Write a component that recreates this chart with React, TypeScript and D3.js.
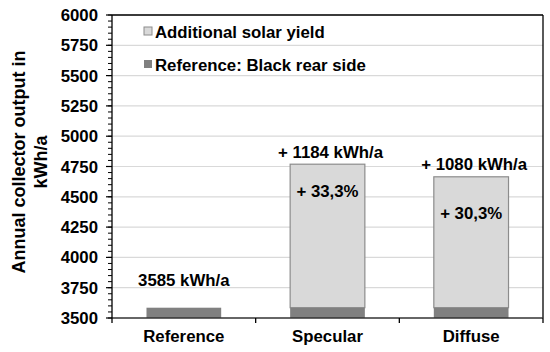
import React from "react";
import * as d3 from "d3";

const categories = ["Reference", "Specular", "Diffuse"];
const referenceValues = [3585, 3585, 3585];
const additionalValues = [0, 1184, 1080];
const totalLabels = ["3585 kWh/a", "+ 1184 kWh/a", "+ 1080 kWh/a"];
const percentLabels = ["", "+ 33,3%", "+ 30,3%"];
const yTicks = [3500, 3750, 4000, 4250, 4500, 4750, 5000, 5250, 5500, 5750, 6000];
const legendLabels = ["Additional solar yield", "Reference: Black rear side"];

const W = 550, H = 352;
const L = 112, R = 543, T = 15, B = 318;
const FONT = "'Liberation Sans', Arial, sans-serif";
const FS = 16.8;

export default function App() {
  const x = d3.scaleBand().domain(categories).range([L, R]).paddingInner(0.48).paddingOuter(0.24);
  const y = d3.scaleLinear().domain([3500, 6000]).range([B, T]);
  const minor = d3.range(3500, 6001, 50);
  const bandTicks = [L, ...categories.map((c) => (x(c)! + x.bandwidth() / 2 + x.step() / 2))];
  const totalDy = [-22, -6, -7];
  const pctY = [0, 197, 219];
  const darkCol = "#808080";
  const lightCol = "#d9d9d9";
  return (
    <svg width={W} height={H} style={{ position: "absolute", left: 0, top: 0 }} fontFamily={FONT}>
      <rect width={W} height={H} fill="#fff" />
      {yTicks.slice(1).map((t) => (
        <line key={t} x1={L} x2={R} y1={y(t)} y2={y(t)} stroke="#d9d9d9" strokeWidth={1.2} />
      ))}
      {categories.map((c, i) => {
        const bx = x(c)!;
        const bw = x.bandwidth();
        const top = referenceValues[i] + additionalValues[i];
        return (
          <g key={c}>
            {additionalValues[i] > 0 && (
              <rect x={bx} y={y(top)} width={bw} height={y(referenceValues[i]) - y(top)} fill={lightCol} stroke="#8c8c8c" strokeWidth={1.2} />
            )}
            <rect x={bx} y={y(referenceValues[i])} width={bw} height={B - y(referenceValues[i])} fill={darkCol} />
            <text x={bx + bw / 2 + (i === 0 ? 0 : 3)} y={y(top) + totalDy[i]} textAnchor="middle" fontSize={FS} fontWeight="bold" fill="#000">
              {totalLabels[i]}
            </text>
            {percentLabels[i] && (
              <text x={bx + bw / 2} y={pctY[i]} textAnchor="middle" fontSize={FS} fontWeight="bold" fill="#000">
                {percentLabels[i]}
              </text>
            )}
            <text x={bx + bw / 2} y={342} textAnchor="middle" fontSize={FS} fontWeight="bold" fill="#000">
              {c}
            </text>
          </g>
        );
      })}
      {/* frame */}
      <line x1={L} x2={R} y1={T} y2={T} stroke="#000" strokeWidth={1.3} />
      <line x1={R} x2={R} y1={T} y2={B} stroke="#000" strokeWidth={1.3} />
      <line x1={L} x2={R} y1={B} y2={B} stroke="#333" strokeWidth={1.5} />
      <line x1={L} x2={L} y1={T} y2={B} stroke="#000" strokeWidth={1.3} />
      {minor.map((m) => (
        <line key={m} x1={L - 4} x2={L} y1={y(m)} y2={y(m)} stroke="#000" strokeWidth={1} />
      ))}
      {yTicks.map((t) => (
        <g key={t}>
          <line x1={L - 6} x2={L} y1={y(t)} y2={y(t)} stroke="#000" strokeWidth={1.2} />
          <text x={98} y={y(t) + 6} textAnchor="end" fontSize={FS} fontWeight="bold" fill="#000">
            {t}
          </text>
        </g>
      ))}
      {bandTicks.map((bt, i) => (
        <line key={i} x1={bt} x2={bt} y1={B} y2={B + 5} stroke="#000" strokeWidth={1.3} />
      ))}
      {/* legend */}
      {legendLabels.map((lab, i) => (
        <g key={lab}>
          <rect x={144} y={i === 0 ? 27 : 60} width={8} height={8} fill={i === 0 ? lightCol : darkCol} stroke={i === 0 ? "#8c8c8c" : "none"} />
          <text x={155} y={i === 0 ? 37.5 : 70.5} fontSize={FS} fontWeight="bold" fill="#000">
            {lab}
          </text>
        </g>
      ))}
      {/* y title */}
      <text transform={`translate(25,${162}) rotate(-90)`} textAnchor="middle" fontSize={18} fontWeight="bold" fill="#000">
        Annual collector output in
      </text>
      <text transform={`translate(47,${162}) rotate(-90)`} textAnchor="middle" fontSize={18} fontWeight="bold" fill="#000">
        kWh/a
      </text>
    </svg>
  );
}
